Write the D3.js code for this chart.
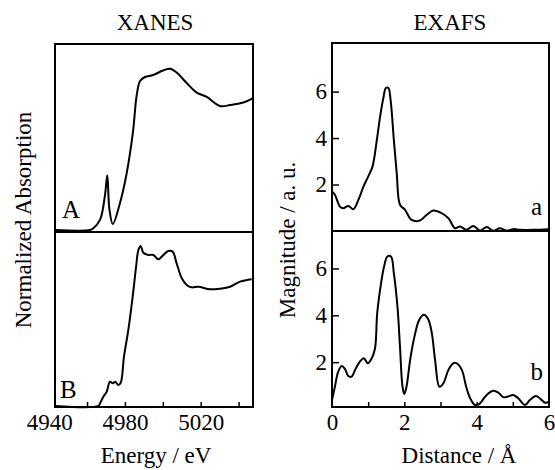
<!doctype html>
<html>
<head>
<title>XANES / EXAFS</title>
<script src="https://d3js.org/d3.v7.min.js"></script>
<style>
  body { margin: 0; background: #fff; }
  svg { display: block; }
  text { font-family: "Liberation Serif", "Times New Roman", serif; fill: #000; }
</style>
</head>
<body>
<script>
// XANES spectra (energy in eV, normalized absorption, baseline = 0)
var xanesEnergyA = [4943.1, 4961.6, 4963.2, 4966.9, 4969.5, 4970.7, 4971.8, 4973.6, 4977.4, 4980.9, 4984.3, 4986.2, 4988.0, 4990.6, 4994.8, 5000.1, 5003.8, 5007.3, 5012.6, 5017.9, 5023.2, 5030.2, 5035.5, 5042.5, 5047.6];
var xanesAbsA    = [0, 0, 0.01, 0.069, 0.235, 0.365, 0.14, 0.04, 0.18, 0.377, 0.66, 0.897, 0.993, 1.02, 1.033, 1.063, 1.075, 1.05, 0.98, 0.916, 0.887, 0.827, 0.833, 0.85, 0.88];

var xanesEnergyB = [4943.1, 4966.0, 4966.9, 4968.6, 4970.4, 4972.1, 4973.6, 4974.8, 4976.5, 4977.8, 4979.5, 4981.8, 4984.1, 4985.9, 4987.1, 4988.3, 4989.7, 4992.3, 4995.0, 4997.6, 5000.3, 5002.9, 5005.2, 5007.3, 5010.0, 5012.6, 5015.3, 5018.7, 5024.9, 5030.2, 5035.5, 5040.8, 5046.9];
var xanesAbsB    = [0, 0, 0.018, 0.062, 0.095, 0.162, 0.151, 0.162, 0.14, 0.155, 0.329, 0.507, 0.729, 0.929, 1.04, 1.067, 1.022, 1.007, 1.007, 0.978, 1.007, 1.033, 1.029, 0.951, 0.851, 0.807, 0.791, 0.795, 0.778, 0.782, 0.795, 0.829, 0.845];

// EXAFS Fourier transforms (distance in Angstrom, magnitude a.u.)
var exafsDistA = [0, 0.08, 0.22, 0.31, 0.45, 0.59, 0.73, 0.87, 1.00, 1.12, 1.24, 1.33, 1.42, 1.49, 1.56, 1.62, 1.71, 1.79, 1.88, 2.02, 2.20, 2.43, 2.62, 2.80, 2.99, 3.22, 3.40, 3.54, 3.72, 3.91, 4.09, 4.28, 4.46, 4.64, 4.83, 5.01, 5.20, 5.57, 6.0];
var exafsMagA  = [1.70, 1.56, 1.05, 0.98, 1.08, 0.94, 1.34, 1.91, 2.34, 2.77, 3.92, 4.92, 5.72, 6.15, 6.15, 5.64, 3.92, 2.49, 1.13, 0.91, 0.48, 0.45, 0.70, 0.88, 0.80, 0.55, 0.12, 0.19, 0.05, 0.22, 0.02, 0.17, 0.01, 0.12, 0.01, 0.08, 0.05, 0.05, 0.08];

var exafsDistB = [0, 0.08, 0.17, 0.27, 0.36, 0.45, 0.54, 0.66, 0.77, 0.88, 0.99, 1.10, 1.19, 1.25, 1.35, 1.44, 1.53, 1.63, 1.71, 1.81, 1.88, 1.95, 2.00, 2.06, 2.16, 2.28, 2.41, 2.54, 2.66, 2.76, 2.85, 2.97, 3.08, 3.22, 3.35, 3.45, 3.59, 3.71, 3.82, 3.95, 4.07, 4.20, 4.35, 4.46, 4.60, 4.74, 4.86, 5.01, 5.15, 5.34, 5.47, 5.64, 5.80, 5.89, 6.00];
var exafsMagB  = [0.38, 0.95, 1.59, 1.84, 1.70, 1.41, 1.38, 1.74, 2.02, 2.17, 1.95, 2.17, 2.59, 4.09, 5.30, 6.08, 6.51, 6.51, 5.80, 4.37, 2.66, 0.95, 0.64, 0.95, 2.09, 3.09, 3.80, 4.02, 3.83, 3.24, 2.09, 0.95, 1.10, 1.67, 1.95, 1.95, 1.67, 0.95, 0.46, 0.17, 0.21, 0.46, 0.70, 0.78, 0.70, 0.50, 0.53, 0.60, 0.46, 0.17, 0.38, 0.56, 0.38, 0.27, 0.31];

// ticks and labels
var energyTicks = [4960, 4980, 5000, 5020, 5040];
var energyLabels = [4940, 4980, 5020];
var distTicks = [1, 2, 3, 4, 5];
var distLabels = [0, 2, 4, 6];
var magTicks = [2, 4, 6];

var W = 555, H = 470;
var svg = d3.select("body").append("svg").attr("width", W).attr("height", H);

var fs = 23;

// ---------- XANES ----------
var xL = d3.scaleLinear().domain([4943.1, 5047.6]).range([55, 253]);
var yA = d3.scaleLinear().domain([-0.013, 1.24]).range([232, 44]);
var yB = d3.scaleLinear().domain([-0.007, 1.16]).range([407, 232]);

// ---------- EXAFS ----------
var xR = d3.scaleLinear().domain([0, 6]).range([332, 549]);
var ya = d3.scaleLinear().domain([0, 8.09]).range([231, 43]);
var yb = d3.scaleLinear().domain([0.085, 7.6]).range([407, 231]);

function drawLine(xs, ys, xsc, ysc) {
  var pts = xs.map(function(d, i) { return [d, ys[i]]; });
  var line = d3.line()
    .x(function(d) { return xsc(d[0]); })
    .y(function(d) { return ysc(d[1]); })
    .curve(d3.curveCatmullRom.alpha(0.5));
  svg.append("path").datum(pts)
    .attr("fill", "none").attr("stroke", "#000")
    .attr("stroke-width", 2).attr("stroke-linejoin", "round")
    .attr("d", line);
}

drawLine(xanesEnergyA, xanesAbsA, xL, yA);
drawLine(xanesEnergyB, xanesAbsB, xL, yB);
drawLine(exafsDistA, exafsMagA, xR, ya);
drawLine(exafsDistB, exafsMagB, xR, yb);

// frames
function frame(x0, x1, y0, ymid, y1) {
  svg.append("rect").attr("x", x0).attr("y", y0).attr("width", x1 - x0).attr("height", y1 - y0)
    .attr("fill", "none").attr("stroke", "#000").attr("stroke-width", 2);
  svg.append("line").attr("x1", x0).attr("x2", x1).attr("y1", ymid).attr("y2", ymid)
    .attr("stroke", "#000").attr("stroke-width", 2);
}
frame(55, 253, 44, 232, 407);
frame(332, 549, 43, 231, 407);

// bottom tick marks (inward) and labels
function bottomAxis(xsc, ticks, labels) {
  var g1 = svg.append("g").attr("transform", "translate(0,407)")
    .call(d3.axisBottom(xsc).tickValues(ticks).tickSize(-5).tickFormat(""));
  g1.select(".domain").remove();
  g1.selectAll("line").attr("stroke-width", 1.5);
  var g2 = svg.append("g").attr("transform", "translate(0,407)")
    .call(d3.axisBottom(xsc).tickValues(labels).tickSize(0).tickPadding(7).tickFormat(d3.format("d")));
  g2.select(".domain").remove();
  g2.selectAll("text").style("font-size", fs + "px").style("font-family", "Liberation Serif");
}
bottomAxis(xL, energyTicks, energyLabels);
bottomAxis(xR, distTicks, distLabels);

// magnitude axes (inward ticks)
[ya, yb].forEach(function(ysc) {
  var g = svg.append("g").attr("transform", "translate(332,0)")
    .call(d3.axisLeft(ysc).tickValues(magTicks).tickSize(-7).tickPadding(5).tickFormat(d3.format("d")));
  g.select(".domain").remove();
  g.selectAll("line").attr("stroke-width", 1.5);
  g.selectAll("text").style("font-size", fs + "px").style("font-family", "Liberation Serif");
});

// titles
svg.append("text").attr("x", 155).attr("y", 30).attr("text-anchor", "middle")
  .style("font-size", fs + "px").text("XANES");
svg.append("text").attr("x", 450).attr("y", 30).attr("text-anchor", "middle")
  .style("font-size", fs + "px").text("EXAFS");

// axis titles
svg.append("text").attr("x", 156).attr("y", 463).attr("text-anchor", "middle")
  .style("font-size", fs + "px").text("Energy / eV");
svg.append("text").attr("x", 459).attr("y", 463).attr("text-anchor", "middle")
  .style("font-size", fs + "px").text("Distance / Å");
svg.append("text").attr("transform", "translate(31,220) rotate(-90)").attr("text-anchor", "middle")
  .style("font-size", fs + "px").text("Normalized Absorption");
svg.append("text").attr("transform", "translate(295,240) rotate(-90)").attr("text-anchor", "middle")
  .style("font-size", fs + "px").text("Magnitude / a. u.");

// panel letters
var pl = 25;
svg.append("text").attr("x", 62).attr("y", 218).style("font-size", pl + "px").text("A");
svg.append("text").attr("x", 60).attr("y", 398).style("font-size", pl + "px").text("B");
svg.append("text").attr("x", 542).attr("y", 215).attr("text-anchor", "end").style("font-size", pl + "px").text("a");
svg.append("text").attr("x", 543).attr("y", 380).attr("text-anchor", "end").style("font-size", pl + "px").text("b");
</script>
</body>
</html>
